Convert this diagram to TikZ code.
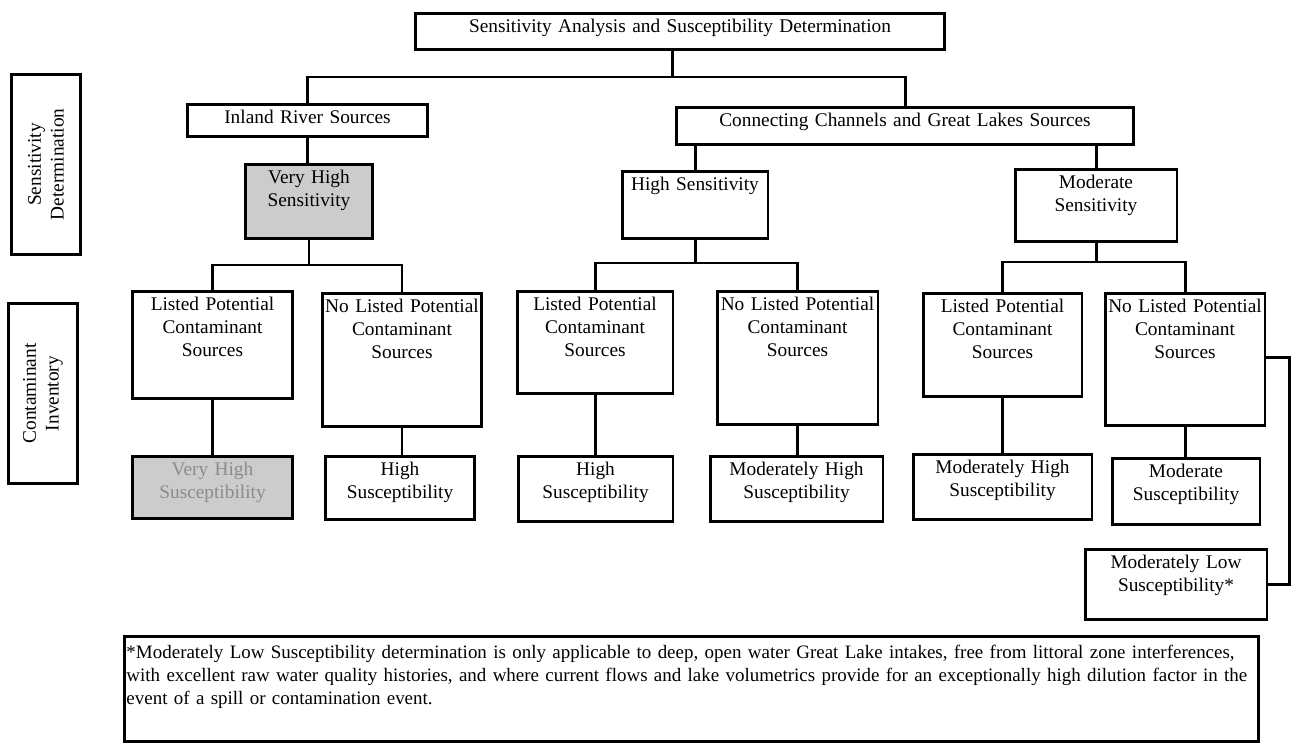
\documentclass[tikz,border=0pt]{standalone}
\usepackage{fontspec}
\setmainfont{Liberation Serif}

\begin{document}
\begin{tikzpicture}[x=0.02cm, y=-0.02cm, line width=1.7pt, font=\fontsize{11}{13}\selectfont,
    blk/.style 2 args={draw, fill=white, align=center, anchor=north, inner sep=0pt, text height=0.38cm, text width=#1, text depth=#2},
    grey box/.style={fill=black!20},
    side/.style={draw, rotate=90, align=center, minimum width=3.6cm, minimum height=1.38cm}]

                \useasboundingbox (0,0) rectangle (1291,744);

                \node[blk={10.6cm}{0.34cm}] (top) at (680,12) {Sensitivity Analysis and Susceptibility Determination};

                \node[side] (sd) at (46,164.5) {Sensitivity\\Determination};
                \node[side] (ci) at (43,393.5) {Contaminant\\Inventory};

                \node[blk={4.82cm}{0.26cm}] (ir) at (307.5,103) {Inland River Sources};
                \node[blk={9.16cm}{0.36cm}] (cc) at (905,106) {Connecting Channels and Great Lakes Sources};

                \node[blk={2.56cm}{1.10cm}, grey box] (vhs) at (309,163) {Very High\\Sensitivity};
                \node[blk={2.92cm}{0.96cm}] (hs) at (695,170) {High Sensitivity};
                \node[blk={3.24cm}{1.06cm}] (ms) at (1096,168) {Moderate\\Sensitivity};

                \node[blk={3.22cm}{1.76cm}] (lpc1) at (212.5,290) {Listed Potential\\Contaminant\\Sources};
                \node[blk={3.20cm}{2.28cm}] (nlpc1) at (402,292) {No Listed Potential\\Contaminant\\Sources};
                \node[blk={3.12cm}{1.66cm}] (lpc2) at (595,290) {Listed Potential\\Contaminant\\Sources};
                \node[blk={3.22cm}{2.28cm}] (nlpc2) at (797.5,290) {No Listed Potential\\Contaminant\\Sources};
                \node[blk={3.18cm}{1.68cm}] (lpc3) at (1002.5,292) {Listed Potential\\Contaminant\\Sources};
                \node[blk={3.20cm}{2.26cm}] (nlpc3) at (1185,292) {No Listed Potential\\Contaminant\\Sources};

                \node[blk={3.22cm}{0.86cm}, grey box, text=black!45] (vhsu) at (212.5,455) {Very High\\Susceptibility};
                \node[blk={3.00cm}{0.88cm}] (hsu1) at (400,455) {High\\Susceptibility};
                \node[blk={3.10cm}{0.92cm}] (hsu2) at (595.5,455) {High\\Susceptibility};
                \node[blk={3.46cm}{0.92cm}] (mhsu2) at (796.5,455) {Moderately High\\Susceptibility};
                \node[blk={3.58cm}{0.92cm}] (mhsu3) at (1002.5,453) {Moderately High\\Susceptibility};
                \node[blk={2.96cm}{0.94cm}] (msu) at (1186,457) {Moderate\\Susceptibility};
                \node[blk={3.64cm}{1.02cm}] (mlsu) at (1176,548) {Moderately Low\\Susceptibility*};

                \node[draw, anchor=north west, align=left, inner xsep=0.04cm, inner ysep=0pt, text width=22.6cm, text height=0.44cm, text depth=1.66cm,
                      font=\fontsize{10.8}{13}\selectfont] (note) at (123,635)
                    {\makebox[\linewidth][s]{*Moderately Low Susceptibility determination is only applicable to deep, open water Great Lake intakes, free from littoral zone interferences,}\\
                     \makebox[\linewidth][s]{with excellent raw water quality histories, and where current flows and lake volumetrics provide for an exceptionally high dilution factor in the}\\
                     event of a spill or contamination event.};

                % junctions
                \coordinate (j0) at (672,77);
                \coordinate (b1) at (309,265);
                \coordinate (b2) at (695,263);
                \coordinate (b3) at (1096,262);
                \coordinate (rt) at (1289,357);

                \draw (top.south -| j0) -- (j0);
                \draw (ir.north) |- (j0) -| (cc.north);

                \draw (ir.south) -- (ir.south |- vhs.north);
                \draw (vhs.south) -- (b1);
                \draw (lpc1.north) |- (b1) -| (nlpc1.north);
                \draw (lpc1) -- (vhsu);
                \draw (nlpc1.south) -- (nlpc1.south |- hsu1.north);

                \draw (cc.south -| hs.north) -- (hs.north);
                \draw (cc.south -| ms.north) -- (ms.north);

                \draw (hs.south) -- (b2);
                \draw (lpc2.north) |- (b2) -| (nlpc2.north);
                \draw (lpc2.south) -- (lpc2.south |- hsu2.north);
                \draw (nlpc2.south) -- (nlpc2.south |- mhsu2.north);

                \draw (ms.south) -- (b3);
                \draw (lpc3.north) |- (b3) -| (nlpc3.north);
                \draw (lpc3) -- (mhsu3);
                \draw (nlpc3.south) -- (nlpc3.south |- msu.north);

                \draw (nlpc3.east |- rt) -| (mlsu.east -| rt) -- (mlsu.east);

                ;
            \end{tikzpicture}
\end{document}
